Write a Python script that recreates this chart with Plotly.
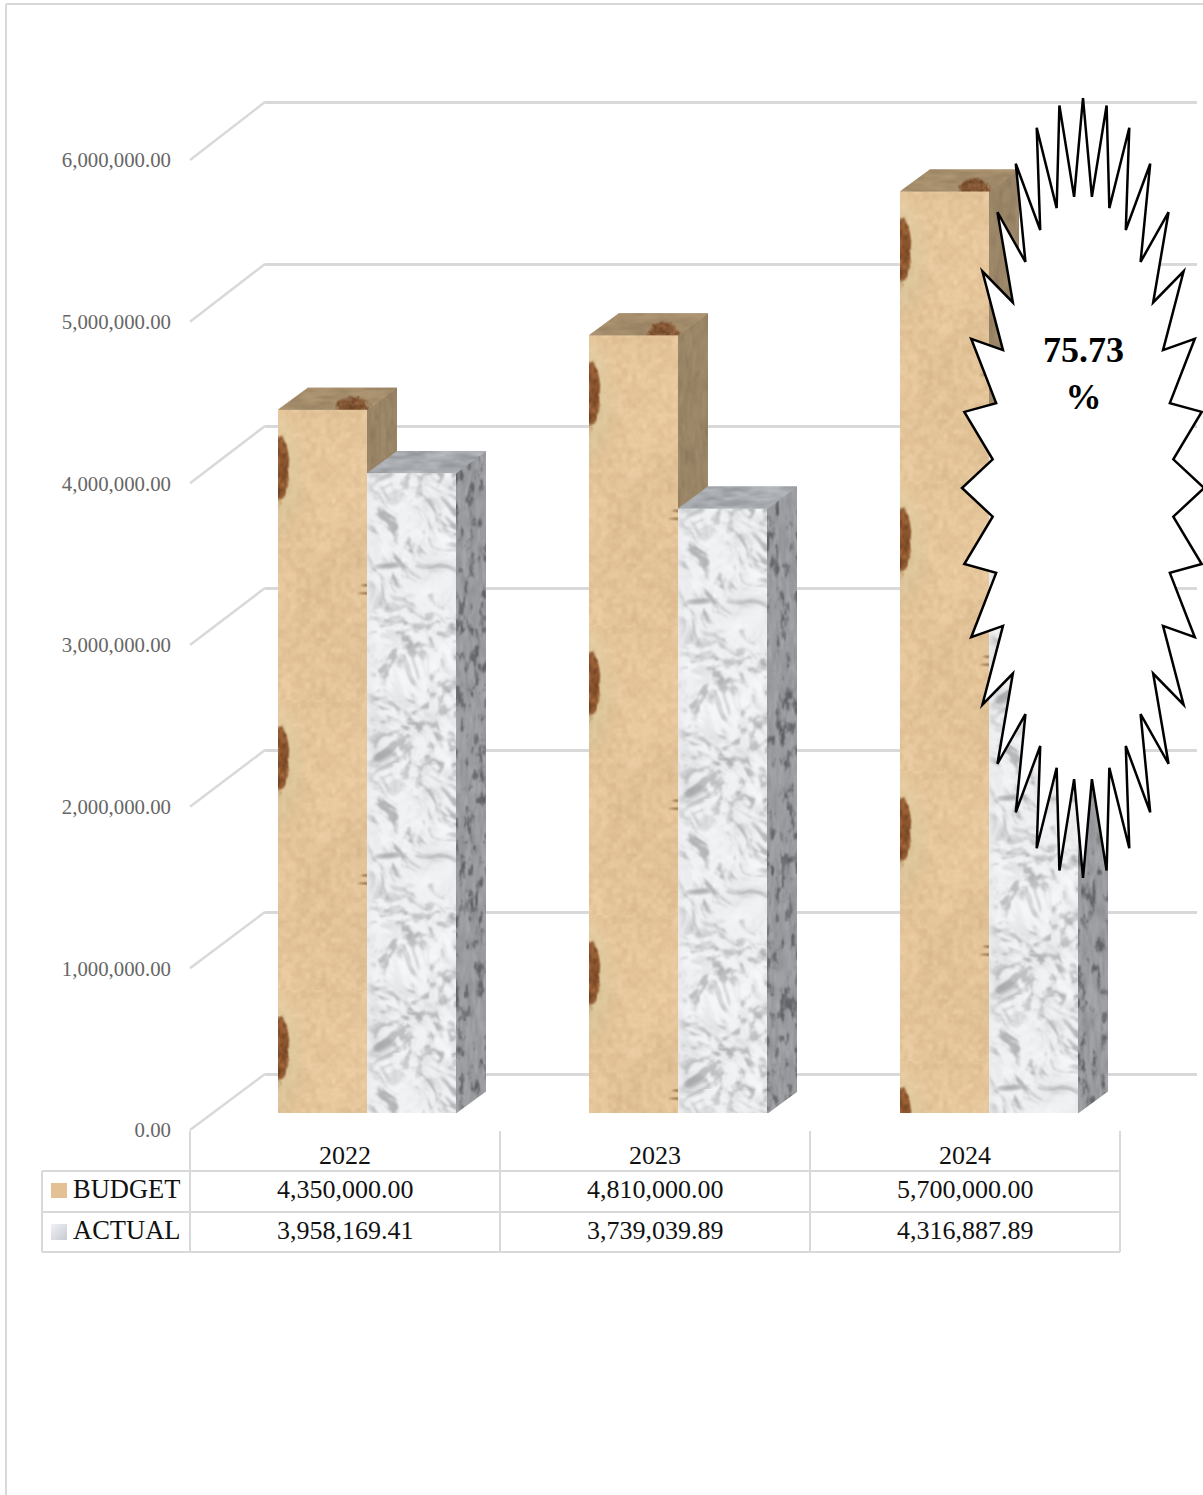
import base64, struct, zlib
import numpy as np
import plotly.graph_objects as go

# ---------- data ----------
YEARS = [2022, 2023, 2024]
BUDGET = [4350000.00, 4810000.00, 5700000.00]
ACTUAL = [3958169.41, 3739039.89, 4316887.89]
Y_TICKS = [0, 1000000, 2000000, 3000000, 4000000, 5000000, 6000000]
SERIES_NAMES = ["BUDGET", "ACTUAL"]
CALLOUT = "75.73<br>%"

# ---------- page geometry (pixels) ----------
W, H = 1203, 1495
CAT_PX = 310.0
BAR_STEP = 311.0 / CAT_PX   # the bar groups advance one pixel more than the table columns
X0_PX = 345.0               # centre of the first category
Y_SCALE = 161.67e-6         # pixels per unit of value
FLOOR_BAR, FLOOR_TICK, FLOOR_WALL = 1113.0, 1130.0, 1074.0
WALL_SCALE = 162.0e-6
BAR_PX = 89.0
DX_PX, DY_PX = 30.0, 22.0
DX, DY = DX_PX / CAT_PX, DY_PX / Y_SCALE
BAR_W = BAR_PX / CAT_PX
OFF_B, OFF_A = -22.5 / CAT_PX, 66.5 / CAT_PX
GREY = "#d9d9d9"
SERIF = "Liberation Serif"


def y_range(floor, scale):
    return [-(H - floor) / scale, floor / scale]


def py(px):
    return 1 - px / H


# ---------- procedural textures (style only, no data) ----------
def h2(i, j, s):
    v = np.sin(i * 127.1 + j * 311.7 + s * 74.7) * 43758.5453
    return v - np.floor(v)


def vnoise(x, y, s):
    i, j = np.floor(x), np.floor(y)
    fx, fy = x - i, y - j
    fx, fy = fx * fx * (3 - 2 * fx), fy * fy * (3 - 2 * fy)
    a, b = h2(i, j, s), h2(i + 1, j, s)
    c, d = h2(i, j + 1, s), h2(i + 1, j + 1, s)
    return (a * (1 - fx) + b * fx) * (1 - fy) + (c * (1 - fx) + d * fx) * fy


def fbm(x, y, s, oct_=3):
    tot, amp, norm = 0.0, 1.0, 0.0
    for k in range(oct_):
        tot = tot + amp * vnoise(x * 2.03 ** k + k * 3.7, y * 2.03 ** k + k * 1.9, s + k)
        norm += amp
        amp *= 0.55
    return tot / norm


def blur(a, n=1):
    for _ in range(n):
        p = np.pad(a, ((1, 1), (1, 1)) + ((0, 0),) * (a.ndim - 2), mode="edge")
        a = (p[:-2, 1:-1] + p[2:, 1:-1] + p[1:-1, :-2] + p[1:-1, 2:] + p[1:-1, 1:-1]) / 5
    return a


def sstep(a, b, v):
    t = np.clip((v - a) / (b - a), 0, 1)
    return t * t * (3 - 2 * t)


def png_uri(rgb, alpha=None):
    h, w = rgb.shape[:2]
    if alpha is None:
        alpha = np.ones((h, w))
    arr = np.dstack([np.clip(rgb, 0, 255), np.clip(alpha, 0, 1)[..., None] * 255]).astype(np.uint8)
    raw = b"".join(b"\x00" + arr[r].tobytes() for r in range(h))

    def chunk(t, d):
        c = struct.pack(">I", len(d)) + t + d
        return c + struct.pack(">I", zlib.crc32(t + d) & 0xffffffff)

    data = (b"\x89PNG\r\n\x1a\n" + chunk(b"IHDR", struct.pack(">IIBBBBB", w, h, 8, 6, 0, 0, 0))
            + chunk(b"IDAT", zlib.compress(raw, 6)) + chunk(b"IEND", b""))
    return "data:image/png;base64," + base64.b64encode(data).decode()


def grid(w, h):
    return np.meshgrid(np.arange(w, dtype=float), np.arange(h, dtype=float))


PERIOD = 290


def sand_tile():
    w = int(BAR_PX)
    x, y = grid(w, PERIOD)
    n = fbm(x / 5, y / 5, 1)
    big = fbm(x / 45, y / 45, 2, 2)
    rgb = np.dstack([228 + (n - .5) * 26 + (big - .5) * 12,
                     196 + (n - .5) * 28 + (big - .5) * 12,
                     153 + (n - .5) * 32 + (big - .5) * 12])
    halo = np.clip(1 - (x / 30) ** 2 - ((y - 65) / 70) ** 2, 0, 1)[..., None] * 0.6
    rgb = rgb * (1 - halo) + np.array([218, 203, 160]) * halo
    ell = ((x - 1) / 10) ** 2 + ((y - 59) / 35) ** 2
    a = np.clip((1 - ell + (fbm(x / 5, y / 7, 3) - .5) * 0.8) * 2.5, 0, 1)[..., None]
    shade = fbm(x / 3, y / 5, 4)[..., None]
    brown = np.array([100, 55, 25]) + shade * np.array([85, 65, 45])
    rgb = rgb * (1 - a) + brown * a
    for yy, ln in ((175, 7), (183, 10)):
        m = np.clip(1 - ((x - (w - 1)) / ln) ** 2 - ((y - yy) / 1.8) ** 2, 0, 1)[..., None] * .9
        rgb = rgb * (1 - m) + np.array([150, 112, 65]) * m
    return blur(rgb, 1)


def marble_tile():
    w = int(BAR_PX)
    pad = 40
    x, y = grid(w, PERIOD + pad)
    wx = (fbm(x / 45, y / 45, 20, 2) - .5) * 40
    wy = (fbm(x / 45, y / 45, 24, 2) - .5) * 40
    xx, yy = x + wx, y + wy
    u, v = (xx + yy) * 0.71, (xx - yy) * 0.71
    cloud = fbm(x / 30, y / 30, 10, 2)
    streak = sstep(.50, .74, fbm(u / 20, v / 5, 11, 4))
    mott = sstep(.50, .72, fbm(xx / 10, yy / 8, 13, 4))
    fine = fbm(x / 3, y / 3, 14, 2)
    ramp = sstep(100, 170, y)
    dark = streak * (1 - .75 * ramp) * .85 + mott * (.15 + .8 * ramp) * .75
    stroke = np.clip(1 - ((x - 22) / 20) ** 2 - ((y - 92 + (x - 22) * .08) / 4) ** 2, 0, 1)
    dark = np.maximum(dark, stroke * .95)
    g = 241 + (cloud - .5) * 16 - dark * 72 - (fine - .5) * 6
    blend = (np.arange(pad) / pad)[:, None]
    g[:pad] = g[:pad] * blend + g[PERIOD:PERIOD + pad] * (1 - blend)
    g = g[:PERIOD]
    strip = np.clip(1 - x[:PERIOD] / 9, 0, 1) * .8
    g = g * (1 - strip) + 236 * strip
    g = blur(g, 2)
    return np.dstack([g - 1, g, g + 2])


def crop_tile(tile, h):
    return tile[np.arange(h) % tile.shape[0]]


def side_face(h_px, base, low, s, blobs=1.0):
    """Right-hand face: a parallelogram inside its bounding box, with alpha mask."""
    w, h = int(DX_PX), int(round(h_px + DY_PX))
    x, y = grid(w, h)
    top = DY_PX * (1 - (x + .5) / DX_PX)
    alpha = np.clip(y + .5 - top + .5, 0, 1) * np.clip(top + h_px - y + .5, 0, 1)
    n = fbm(x / 2.5, y / 14, s, 3)
    b = sstep(.52, .76, fbm(x / 5, y / 12, s + 4, 4))
    k = blur(b * blobs + (n - .5) * .5 + .12, 1)[..., None]
    rgb = np.array(base, float) + (np.array(low, float) - np.array(base, float)) * k
    return png_uri(rgb, alpha)


def top_face(base, low, s, blotch=False):
    w, h = int(BAR_PX + DX_PX), int(DY_PX)
    x, y = grid(w, h)
    left = DX_PX * (1 - (y + .5) / DY_PX)
    alpha = np.clip(x + .5 - left + .5, 0, 1) * np.clip(left + BAR_PX - x + .5, 0, 1)
    n = fbm(x / 16, y / 3, s)
    k = blur((n - .45) * 1.3, 1)[..., None]
    rgb = np.array(base, float) + (np.array(low, float) - np.array(base, float)) * k
    if blotch:
        e = ((x - 74) / 19) ** 2 + ((y - 24) / 17) ** 2
        a = np.clip((1 - e + (fbm(x / 4, y / 4, s + 5) - .5) * .8) * 2.5, 0, 1)[..., None]
        br = np.array([95, 58, 32]) + fbm(x / 3, y / 3, s + 6)[..., None] * np.array([70, 55, 40])
        rgb = rgb * (1 - a) + br * a
    return png_uri(rgb, alpha)


SAND = sand_tile()
MARBLE = marble_tile()

# ---------- figure ----------
fig = go.Figure()

# back wall subplot: supplies the horizontal gridlines
fig.add_trace(go.Scatter(x=[0, 1], y=[Y_TICKS[0], Y_TICKS[-1]], mode="markers", marker_opacity=0,
                         hoverinfo="skip", showlegend=False, xaxis="x", yaxis="y"))

# left wall diagonals: tick plane to back wall, in bar-plane value units
LEFT_EDGE = YEARS[0] - 0.5
for t in Y_TICKS:
    y_front = t - (FLOOR_TICK - FLOOR_BAR) / Y_SCALE
    y_back = (FLOOR_BAR - FLOOR_WALL + t * WALL_SCALE) / Y_SCALE
    fig.add_trace(go.Scatter(x=[LEFT_EDGE, LEFT_EDGE + 75 / CAT_PX], y=[y_front, y_back], mode="lines",
                             line=dict(color=GREY, width=2.5), hoverinfo="skip", showlegend=False,
                             xaxis="x2", yaxis="y2"))

BAR_X = [YEARS[0] + i * BAR_STEP for i in range(len(YEARS))]

# front faces
fig.add_trace(go.Bar(x=[xc + OFF_B for xc in BAR_X], y=BUDGET, width=BAR_W, name=SERIES_NAMES[0],
                     marker=dict(color="#e3c598", line_width=0), showlegend=False, xaxis="x2", yaxis="y2"))
fig.add_trace(go.Bar(x=[xc + OFF_A for xc in BAR_X], y=ACTUAL, width=BAR_W, name=SERIES_NAMES[1],
                     marker=dict(color="#e8eaec", line_width=0), showlegend=False, xaxis="x2", yaxis="y2"))

images = []


def add_img(uri, x, y_top, sx, sy):
    images.append(dict(source=uri, xref="x2", yref="y2", x=x, y=y_top, sizex=sx, sizey=sy,
                       sizing="stretch", xanchor="left", yanchor="top", layer="above"))


def add_poly(xs, ys, color):
    fig.add_trace(go.Scatter(x=xs, y=ys, mode="lines", fill="toself", fillcolor=color, line_width=0,
                             hoverinfo="skip", showlegend=False, xaxis="x2", yaxis="y2"))


for i, xc in enumerate(BAR_X):
    b, a = BUDGET[i], ACTUAL[i]
    xb0 = xc + OFF_B - BAR_W / 2
    xa0 = xc + OFF_A - BAR_W / 2
    xa1 = xa0 + BAR_W
    # budget: the side is only visible above the actual block
    add_poly([xa0, xa0 + DX, xa0 + DX, xa0], [b, b + DY, a + DY, a], "#9b8668")
    add_poly([xb0, xb0 + DX, xa0 + DX, xa0], [b, b + DY, b + DY, b], "#a68f6d")
    # actual
    add_poly([xa1, xa1 + DX, xa1 + DX, xa1], [a, a + DY, DY, 0], "#a0a3a6")
    add_poly([xa0, xa0 + DX, xa1 + DX, xa1], [a, a + DY, a + DY, a], "#a9adb2")
    # textures
    add_img(png_uri(crop_tile(SAND, int(round(b * Y_SCALE)))), xb0, b, BAR_W, b)
    add_img(png_uri(crop_tile(MARBLE, int(round(a * Y_SCALE)))), xa0, a, BAR_W, a)
    add_img(side_face((b - a) * Y_SCALE, (160, 139, 108), (120, 100, 75), 20 + i, 0.2), xa0, b + DY, DX, b - a + DY)
    add_img(top_face((168, 144, 110), (135, 115, 85), 30 + i, True), xb0, b + DY, BAR_W + DX, DY)
    add_img(side_face(a * Y_SCALE, (163, 165, 168), (95, 97, 100), 40 + i, 0.8), xa1, a + DY, DX, a + DY)
    add_img(top_face((170, 174, 178), (125, 129, 134), 50 + i), xa0, a + DY, BAR_W + DX, DY)

# invisible trace that carries the value-axis labels
fig.add_trace(go.Scatter(x=[YEARS[0]] * len(Y_TICKS), y=Y_TICKS, mode="markers", marker_opacity=0,
                         hoverinfo="skip", showlegend=False, xaxis="x2", yaxis="y3"))

# ---------- data table ----------
shapes = []


def seg(x0, y0, x1, y1, color=GREY, width=2):
    shapes.append(dict(type="line", xref="paper", yref="paper", x0=x0 / W, x1=x1 / W, y0=py(y0), y1=py(y1),
                       line=dict(color=color, width=width), layer="below"))


seg(6, 4, W, 4)
seg(6, 4, 6, H)
for ypx in (1171, 1212, 1252):
    seg(42, ypx, 1120, ypx)
seg(42, 1171, 42, 1252)
for xpx in (190, 500, 810, 1120):
    seg(xpx, 1131, xpx, 1252)

annotations = []
for row_px, name, vals in ((1189, SERIES_NAMES[0], BUDGET), (1230, SERIES_NAMES[1], ACTUAL)):
    annotations.append(dict(text=name, xref="paper", yref="paper", x=71 / W, y=py(row_px), xanchor="left",
                            yanchor="middle", showarrow=False, font=dict(family=SERIF, size=26.5, color="#111111")))
    for yr, v in zip(YEARS, vals):
        annotations.append(dict(text=f"{v:,.2f}", xref="x2", yref="paper", x=yr, y=py(row_px), xanchor="center",
                                yanchor="middle", showarrow=False, font=dict(family=SERIF, size=26, color="#111111")))

# legend keys
xk, yk = grid(16, 16)
key_actual = png_uri(np.dstack([240 - (xk + yk) * 1.3, 240 - (xk + yk) * 1.2, 244 - (xk + yk) * 1.0]))
images.append(dict(source=key_actual, xref="paper", yref="paper", x=51 / W, y=py(1224), sizex=16 / W, sizey=16 / H,
                   sizing="stretch", xanchor="left", yanchor="top", layer="above"))
shapes.append(dict(type="rect", xref="paper", yref="paper", x0=51 / W, x1=67 / W, y0=py(1183), y1=py(1198),
                   fillcolor="#e3c195", line_width=0, layer="below"))

# ---------- call-out star (32 points) ----------
CX, CY, RX, RY, RATIO = 1083.0, 488.0, 121.0, 390.0, 0.75
pts = []
for k in range(64):
    ang = np.pi * k / 32
    r = 1.0 if k % 2 == 0 else RATIO
    pts.append((CX + RX * r * np.sin(ang), CY - RY * r * np.cos(ang)))
star = "M" + " L".join(f"{px / W:.5f},{py(pp):.5f}" for px, pp in pts) + " Z"
shapes.append(dict(type="path", path=star, xref="paper", yref="paper", fillcolor="#ffffff",
                   line=dict(color="#000000", width=2.5), layer="above"))
annotations.append(dict(text=f"<b>{CALLOUT}</b>", xref="paper", yref="paper", x=CX / W, y=py(373), xanchor="center",
                        yanchor="middle", align="center", showarrow=False,
                        font=dict(family=SERIF, size=36, color="#000000")))

# ---------- layout ----------
x_range = [YEARS[0] - X0_PX / CAT_PX, YEARS[0] + (W - X0_PX) / CAT_PX]
fig.update_layout(
    width=W, height=H, autosize=False,
    margin=dict(l=0, r=0, t=0, b=0, pad=0),
    paper_bgcolor="#ffffff", plot_bgcolor="rgba(0,0,0,0)",
    showlegend=False, barmode="overlay",
    xaxis=dict(domain=[265 / W, 1197 / W], range=[0, 1], visible=False, fixedrange=True),
    yaxis=dict(domain=[0, 1], range=y_range(FLOOR_WALL, WALL_SCALE), tickvals=Y_TICKS, showticklabels=False,
               ticks="", showgrid=True, gridcolor=GREY, gridwidth=2.5, zeroline=False, showline=False, anchor="x",
               fixedrange=True),
    xaxis2=dict(domain=[0, 1], range=x_range, anchor="free", position=py(1137), side="bottom", tickmode="array",
                tickvals=YEARS, ticktext=[str(v) for v in YEARS], ticks="", showgrid=False, zeroline=False,
                showline=False, tickfont=dict(family=SERIF, size=26, color="#111111"), fixedrange=True),
    yaxis2=dict(domain=[0, 1], range=y_range(FLOOR_BAR, Y_SCALE), visible=False, anchor="x2", fixedrange=True),
    yaxis3=dict(overlaying="y2", range=y_range(FLOOR_TICK, Y_SCALE), anchor="free", position=171 / W, side="left",
                tickmode="array", tickvals=Y_TICKS, tickformat=",.2f", ticks="", showgrid=False, zeroline=False,
                showline=False, tickfont=dict(family=SERIF, size=20.8, color="#666666"), fixedrange=True),
    shapes=shapes, annotations=annotations, images=images,
)

fig.write_html("out.html", config={"displayModeBar": False},
               post_script="document.body.style.margin='0';document.body.style.overflow='hidden';")
